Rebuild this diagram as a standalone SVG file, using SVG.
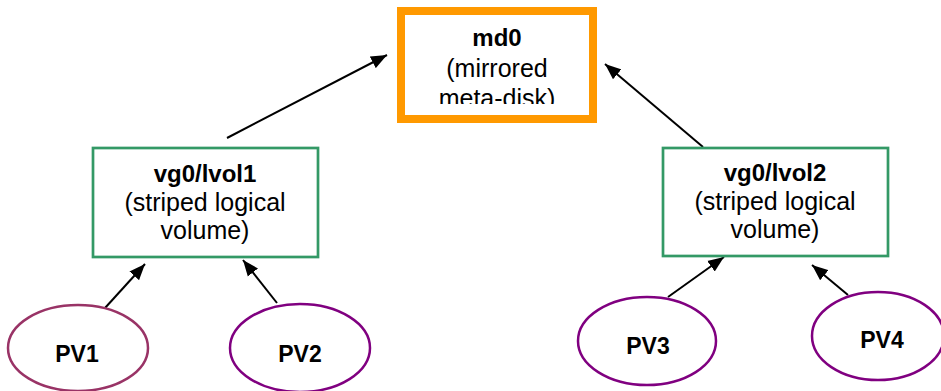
<svg xmlns="http://www.w3.org/2000/svg" width="941" height="391" viewBox="0 0 941 391">
<style>
.t{font-family:"Liberation Sans",Arial,sans-serif;font-size:25px;fill:#000;text-anchor:middle}
.b{font-weight:bold;font-size:24px}
.p{font-weight:bold;font-size:23px}
.lv{fill:#fff;stroke:#339966;stroke-width:2.7}
.pv{fill:#fff;stroke:#800080;stroke-width:2.5}
.c{stroke:#000;stroke-width:2;fill:none;marker-end:url(#ah)}
</style>
<defs>
<marker id="ah" markerUnits="userSpaceOnUse" markerWidth="17" markerHeight="14" refX="16" refY="7" orient="auto" viewBox="0 0 17 14">
<path d="M0,0.5 L16,7 L0,13.5 z" fill="#000"/>
</marker>
<clipPath id="mdclip"><rect x="405" y="15" width="184" height="89"/></clipPath>
</defs>
<rect width="941" height="391" fill="#fff"/>
<g id="connectors">
<line class="c" x1="227" y1="138" x2="387" y2="55"/>
<line class="c" x1="703" y1="147" x2="605" y2="64"/>
<line class="c" x1="105" y1="308" x2="145" y2="264"/>
<line class="c" x1="277" y1="303" x2="243" y2="260"/>
<line class="c" x1="668" y1="297" x2="724" y2="257"/>
<line class="c" x1="848" y1="295" x2="812" y2="265"/>
</g>
<g id="md0">
<rect x="401" y="11" width="192" height="108" fill="#fff" stroke="#FF9900" stroke-width="8"/>
<g clip-path="url(#mdclip)">
<text class="t b" x="497" y="46">md0</text>
<text class="t" x="497" y="77">(mirrored</text>
<text class="t" x="497" y="107">meta-disk)</text>
</g>
</g>
<g id="lvol1">
<rect class="lv" x="93" y="148" width="225" height="109"/>
<text class="t b" x="205" y="182">vg0/lvol1</text>
<text class="t" x="205" y="211">(striped logical</text>
<text class="t" x="205" y="239">volume)</text>
</g>
<g id="lvol2">
<rect class="lv" x="663" y="148" width="225" height="108"/>
<text class="t b" x="775" y="181">vg0/lvol2</text>
<text class="t" x="775" y="210">(striped logical</text>
<text class="t" x="775" y="238">volume)</text>
</g>
<g id="pv1">
<ellipse class="pv" style="stroke:#993366" cx="78" cy="348" rx="70" ry="43"/>
<text class="t p" x="77" y="362">PV1</text>
</g>
<g id="pv2">
<ellipse class="pv" cx="300" cy="348" rx="70" ry="44"/>
<text class="t p" x="300" y="362">PV2</text>
</g>
<g id="pv3">
<ellipse class="pv" cx="647" cy="341" rx="69" ry="44"/>
<text class="t p" x="648" y="354">PV3</text>
</g>
<g id="pv4">
<ellipse class="pv" cx="878" cy="336" rx="66" ry="44"/>
<text class="t p" x="882" y="348">PV4</text>
</g>
</svg>
